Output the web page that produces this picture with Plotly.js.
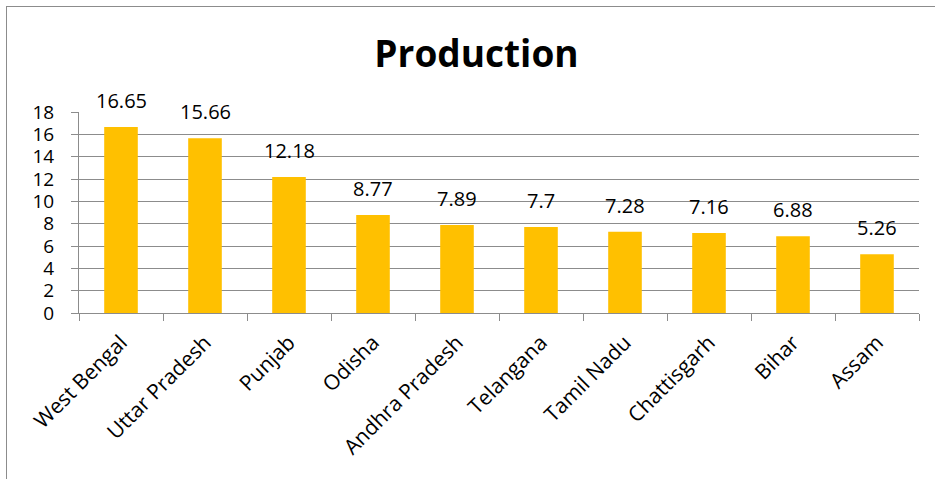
<!DOCTYPE html>
<html>
<head>
<meta charset="utf-8">
<script src="https://cdn.plot.ly/plotly-3.0.1.min.js"></script>
<style>
  html, body { margin: 0; padding: 0; background: #fff; overflow: hidden; }
  #chart { position: absolute; left: 0; top: 0; width: 935px; height: 479px; }
  #frame { position: absolute; left: 6px; top: 6px; width: 940px; height: 480px; border: 1px solid #8c8c8c; pointer-events: none; }
</style>
</head>
<body>
<div id="chart"></div>
<div id="frame"></div>
<script>
const states = ["West Bengal", "Uttar Pradesh", "Punjab", "Odisha", "Andhra Pradesh", "Telangana", "Tamil Nadu", "Chattisgarh", "Bihar", "Assam"];
const production = [16.65, 15.66, 12.18, 8.77, 7.89, 7.7, 7.28, 7.16, 6.88, 5.26];
const valueLabels = ["16.65", "15.66", "12.18", "8.77", "7.89", "7.7", "7.28", "7.16", "6.88", "5.26"];
const yTicks = [0, 2, 4, 6, 8, 10, 12, 14, 16, 18];

const FONT = "Open Sans, Noto Sans, sans-serif";

const labelAnnotations = states.map((s, i) => ({
  x: s,
  y: production[i],
  xref: "x",
  yref: "y",
  text: valueLabels[i],
  showarrow: false,
  xanchor: "center",
  yanchor: "bottom",
  yshift: 11,
  font: { family: FONT, size: 20, color: "#000" }
}));

Plotly.newPlot("chart", [{
  type: "bar",
  x: states,
  y: production,
  marker: { color: "#FFC000" },
  width: 0.4,
  hoverinfo: "x+y"
}], {
  width: 935,
  height: 479,
  margin: { l: 79, r: 16, t: 112, b: 166 },
  paper_bgcolor: "#fff",
  plot_bgcolor: "#fff",
  showlegend: false,
  annotations: labelAnnotations,
  title: {
    text: "<b>Production</b>",
    font: { family: FONT, size: 37, color: "#000" },
    x: 476.5 / 935, xanchor: "center",
    y: 1 - 54 / 479, yanchor: "middle"
  },
  xaxis: {
    type: "category",
    range: [-0.5, 9.5],
    tickangle: -45,
    tickson: "boundaries",
    ticks: "outside",
    ticklen: 7,
    tickcolor: "#8c8c8c",
    showline: true,
    linecolor: "#8c8c8c",
    linewidth: 1,
    showgrid: false,
    ticklabelstandoff: 8,
    tickfont: { family: FONT, size: 21, color: "#000" }
  },
  yaxis: {
    range: [0, 18],
    tickvals: yTicks,
    ticks: "outside",
    ticklen: 7,
    tickcolor: "#8c8c8c",
    showline: true,
    linecolor: "#8c8c8c",
    showgrid: true,
    gridcolor: "#8c8c8c",
    gridwidth: 1,
    zeroline: false,
    ticklabelstandoff: 13,
    tickfont: { family: FONT, size: 19, color: "#000" }
  }
}, { displayModeBar: false, staticPlot: true });
</script>
</body>
</html>
